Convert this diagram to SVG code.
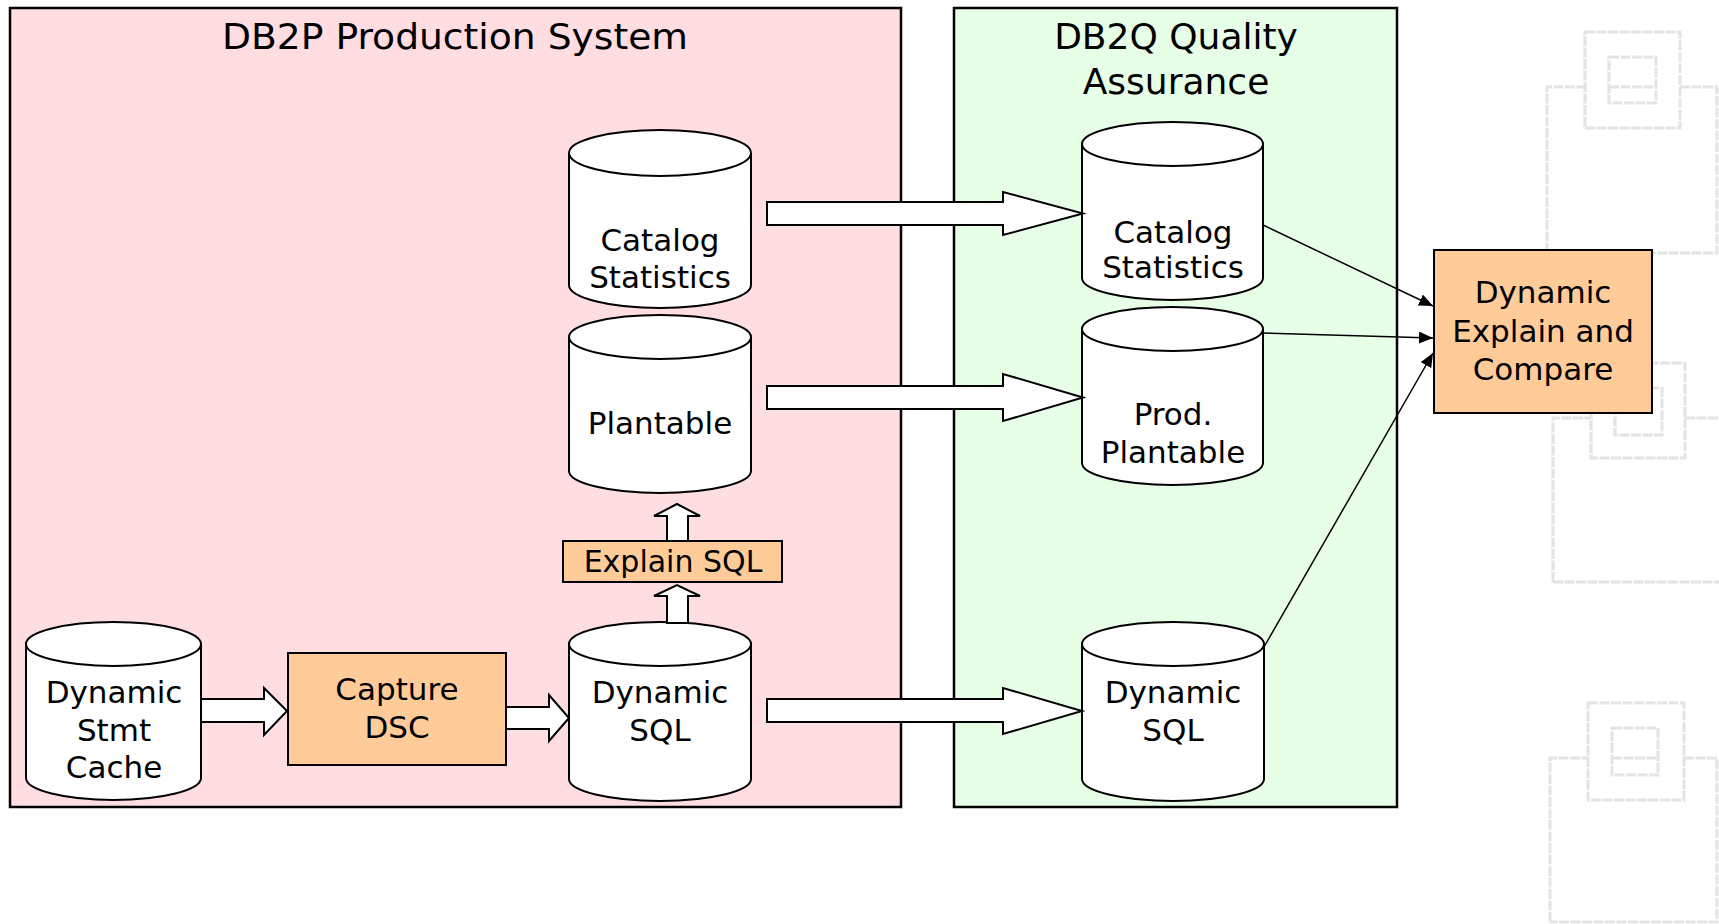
<svg xmlns="http://www.w3.org/2000/svg" width="1719" height="924" viewBox="0 0 1719 924">
<style>
text{font-family:"DejaVu Sans","Liberation Sans",sans-serif;fill:#000;text-anchor:middle}
.t{font-size:36px}
.n{font-size:31px}
.cyl{fill:#fff;stroke:#000;stroke-width:2}
.box{fill:#FFCC99;stroke:#000;stroke-width:2}
.blk{fill:#fff;stroke:#000;stroke-width:2;stroke-linejoin:miter}
.ln{fill:none;stroke:#000;stroke-width:1.5}
.wm{fill:none;stroke:#e4e4e4;stroke-width:3;stroke-dasharray:10 1.5}
</style>
<defs>
<marker id="ah" viewBox="0 0 14 12" refX="14" refY="6" markerWidth="14" markerHeight="12" markerUnits="userSpaceOnUse" orient="auto">
<path d="M0,0 L14,6 L0,12 Z" fill="#000"/>
</marker>
</defs>
<rect width="1719" height="924" fill="#fff"/>
<g id="watermark">
<path class="wm" d="M1547,253 V87 H1585 M1680,87 H1717 V253 H1547"/>
<rect class="wm" x="1585" y="32" width="95" height="96"/>
<rect class="wm" x="1609" y="57" width="47" height="46"/>
<path class="wm" d="M1609,87 H1656"/>
<path class="wm" d="M1553,582 V418 H1591 M1685,418 H1719 M1553,582 H1719"/>
<rect class="wm" x="1591" y="363" width="94" height="95"/>
<rect class="wm" x="1615" y="388" width="47" height="47"/>
<path class="wm" d="M1550,922 V758 H1588 M1684,758 H1717 V922 H1550"/>
<rect class="wm" x="1588" y="703" width="96" height="97"/>
<rect class="wm" x="1612" y="728" width="46" height="47"/>
<path class="wm" d="M1612,758 H1658"/>
</g>
<g id="prod-system">
<rect x="10" y="8" width="891" height="799" fill="#FFDDE1" stroke="#000" stroke-width="2.5"/>
<text class="t" x="455" y="49" textLength="466" lengthAdjust="spacingAndGlyphs">DB2P Production System</text>
</g>
<g id="qa-system">
<rect x="954" y="8" width="443" height="799" fill="#E6FFE6" stroke="#000" stroke-width="2.5"/>
<text class="t" x="1176" y="49">DB2Q Quality</text>
<text class="t" x="1176" y="94">Assurance</text>
</g>
<g id="prod-catalog">
<path class="cyl" d="M569,153 A91,23 0 0 1 751,153 V285 A91,23 0 0 1 569,285 Z"/>
<path class="cyl" d="M569,153 A91,23 0 0 0 751,153"/>
<text class="n" x="660" y="251">Catalog</text>
<text class="n" x="660" y="288">Statistics</text>
</g>
<g id="prod-plantable">
<path class="cyl" d="M569,337 A91,22 0 0 1 751,337 V471 A91,22 0 0 1 569,471 Z"/>
<path class="cyl" d="M569,337 A91,22 0 0 0 751,337"/>
<text class="n" x="660" y="434">Plantable</text>
</g>
<g id="prod-dynsql">
<path class="cyl" d="M569,644 A91,22 0 0 1 751,644 V779 A91,22 0 0 1 569,779 Z"/>
<path class="cyl" d="M569,644 A91,22 0 0 0 751,644"/>
<text class="n" x="660" y="703">Dynamic</text>
<text class="n" x="660" y="741">SQL</text>
</g>
<g id="stmt-cache">
<path class="cyl" d="M26,644 A87.5,22 0 0 1 201,644 V778 A87.5,22 0 0 1 26,778 Z"/>
<path class="cyl" d="M26,644 A87.5,22 0 0 0 201,644"/>
<text class="n" x="114" y="703">Dynamic</text>
<text class="n" x="114" y="741">Stmt</text>
<text class="n" x="114" y="778">Cache</text>
</g>
<g id="capture-dsc">
<rect class="box" x="288" y="653" width="218" height="112"/>
<text class="n" x="397" y="700">Capture</text>
<text class="n" x="397" y="738">DSC</text>
</g>
<g id="explain-sql">
<rect class="box" x="563" y="541" width="219" height="41"/>
<text x="673" y="572" style="font-size:30px">Explain SQL</text>
</g>
<g id="qa-catalog">
<path class="cyl" d="M1082,144 A90.5,22 0 0 1 1263,144 V278 A90.5,22 0 0 1 1082,278 Z"/>
<path class="cyl" d="M1082,144 A90.5,22 0 0 0 1263,144"/>
<text class="n" x="1173" y="243">Catalog</text>
<text class="n" x="1173" y="278">Statistics</text>
</g>
<g id="qa-plantable">
<path class="cyl" d="M1082,329 A90.5,22 0 0 1 1263,329 V463 A90.5,22 0 0 1 1082,463 Z"/>
<path class="cyl" d="M1082,329 A90.5,22 0 0 0 1263,329"/>
<text class="n" x="1173" y="425">Prod.</text>
<text class="n" x="1173" y="463">Plantable</text>
</g>
<g id="qa-dynsql">
<path class="cyl" d="M1082,644 A91,22 0 0 1 1264,644 V779 A91,22 0 0 1 1082,779 Z"/>
<path class="cyl" d="M1082,644 A91,22 0 0 0 1264,644"/>
<text class="n" x="1173" y="703">Dynamic</text>
<text class="n" x="1173" y="741">SQL</text>
</g>
<g id="explain-compare">
<rect class="box" x="1434" y="250" width="218" height="163"/>
<text class="n" x="1543" y="303">Dynamic</text>
<text class="n" x="1543" y="342">Explain and</text>
<text class="n" x="1543" y="380">Compare</text>
</g>
<g id="connectors">
<polygon class="blk" points="767,202 1003,202 1003,192 1083,213.5 1003,235 1003,225 767,225"/>
<polygon class="blk" points="767,386 1003,386 1003,374 1083,397.5 1003,421 1003,409 767,409"/>
<polygon class="blk" points="767,699 1003,699 1003,688 1082,711 1003,734 1003,722 767,722"/>
<polygon class="blk" points="201,699 264,699 264,688 287,711 264,735 264,722 201,722"/>
<polygon class="blk" points="506,707 549,707 549,695 569,718 549,741 549,729 506,729"/>
<polygon class="blk" points="667,623 667,596 654,596 677,585 700,596 688,596 688,623"/>
<polygon class="blk" points="667,541 667,516 654,516 677,504 700,516 688,516 688,541"/>
<path class="ln" d="M1263,225 L1433,306" marker-end="url(#ah)"/>
<path class="ln" d="M1263,333 L1433,338" marker-end="url(#ah)"/>
<path class="ln" d="M1264,647 L1433,353" marker-end="url(#ah)"/>
</g>
</svg>
